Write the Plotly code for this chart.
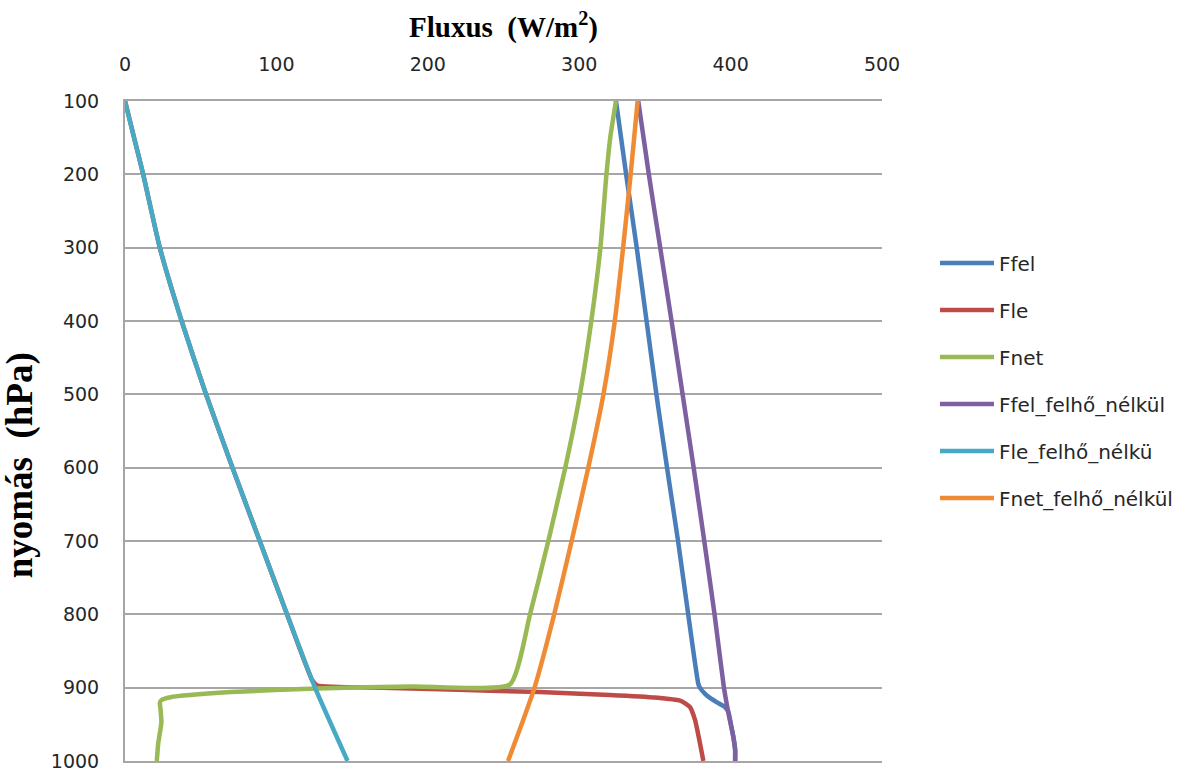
import plotly.graph_objects as go

# Ffel (upward flux, cloudy)
p_ffel = [100, 200, 300, 400, 500, 600, 700, 800, 895, 901, 908, 914, 920, 926, 933, 950, 967, 985, 1000]
x_ffel = [324.3, 331, 338, 344.5, 351, 358, 365.3, 372, 378.7, 380, 383, 386.4, 391, 396, 398.5, 400.2, 401.8, 403, 403]

# Fle (downward flux, cloudy)
p_fle = [100, 150, 200, 300, 400, 500, 600, 700, 800, 890, 897, 900, 903, 906, 910, 913.5, 918, 926, 944, 1000]
x_fle = [0, 6, 12, 23, 37.4, 53.5, 71, 89, 107, 123.7, 127, 170, 220, 274, 320, 350, 367, 373, 376.5, 382]

# Fnet (cloudy)
p_fnet = [100, 150, 200, 300, 400, 500, 600, 700, 800, 895.5, 898.3, 901, 906, 913, 917, 921, 930, 948, 975, 1000]
x_fnet = [324.3, 320.5, 318, 314, 308, 300.5, 290.8, 279.6, 267.5, 254.3, 190, 127, 70, 30, 24, 23, 23.5, 24, 22, 21]

# Ffel_felhő_nélkül
p_ffel_nk = [100, 200, 300, 400, 500, 600, 700, 800, 900, 934, 967, 985, 1000]
x_ffel_nk = [339, 346, 353.5, 361, 368.3, 375.6, 382.6, 389.4, 395.6, 398.5, 401.8, 403, 403]

# Fle_felhő_nélkü
p_fle_nk = [100, 150, 200, 300, 400, 500, 600, 700, 800, 900, 1000]
x_fle_nk = [0, 6, 12, 23, 37.4, 53.5, 71, 89, 107, 125.5, 147]

# Fnet_felhő_nélkül
p_fnet_nk = [100, 200, 300, 400, 500, 600, 700, 800, 900, 950, 1000]
x_fnet_nk = [338.6, 334, 329, 323.5, 316, 306, 295, 283.5, 270.5, 262, 253]

names = ["Ffel", "Fle", "Fnet", "Ffel_felhő_nélkül", "Fle_felhő_nélkü", "Fnet_felhő_nélkül"]
colors = ["#4A7EBB", "#BE4B48", "#98B954", "#7D60A0", "#46AAC5", "#F08B35"]
xs = [x_ffel, x_fle, x_fnet, x_ffel_nk, x_fle_nk, x_fnet_nk]
ps = [p_ffel, p_fle, p_fnet, p_ffel_nk, p_fle_nk, p_fnet_nk]

x_ticks = [0, 100, 200, 300, 400, 500]
y_ticks = [100, 200, 300, 400, 500, 600, 700, 800, 900, 1000]

fig = go.Figure()
for n, c, x, p in zip(names, colors, xs, ps):
    fig.add_trace(go.Scatter(
        x=x, y=p, name=n, mode="lines", legendgroup=n,
        line=dict(color=c, width=4.5, shape="spline", smoothing=0.5),
    ))

grid = "#A6A6A6"
fig.update_layout(
    width=1200, height=770,
    margin=dict(l=125, r=318, t=101, b=9),
    plot_bgcolor="white", paper_bgcolor="white",
    font=dict(family="DejaVu Sans", size=19, color="#262626"),
    showlegend=True,
    legend=dict(
        x=1.07, xanchor="left", y=0.5765, yanchor="middle",
        font=dict(family="DejaVu Sans", size=20, color="#262626"),
        tracegroupgap=18, itemwidth=54, bgcolor="rgba(0,0,0,0)",
    ),
    xaxis=dict(
        range=[0, 500], side="top", tickvals=x_ticks, showgrid=False,
        showline=True, mirror=True, linecolor=grid, linewidth=2,
        ticks="", ticklabelstandoff=20, zeroline=False, automargin=False,
        ticklabeloverflow="allow",
    ),
    yaxis=dict(
        range=[1000, 100], tickvals=y_ticks, showgrid=True, gridcolor=grid, gridwidth=2,
        showline=True, linecolor=grid, linewidth=2, ticks="", ticklabelstandoff=20,
        zeroline=False, automargin=False, ticklabeloverflow="allow",
    ),
    annotations=[
        dict(text="<b>Fluxus  (W/m<sup>2</sup>)</b>", xref="paper", yref="paper",
             x=0.5, y=1, yshift=76, showarrow=False, yanchor="middle",
             font=dict(family="Liberation Serif", size=29, color="black")),
        dict(text="<b>nyomás  (hPa)</b>", xref="paper", yref="paper",
             x=0, xshift=-105, y=0.448, showarrow=False, textangle=-90, xanchor="center",
             font=dict(family="Liberation Serif", size=37, color="black")),
    ],
)

fig.write_html("out.html")
